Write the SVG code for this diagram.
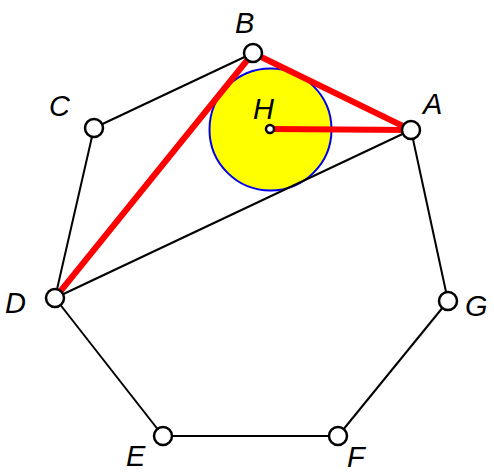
<svg xmlns="http://www.w3.org/2000/svg" width="494" height="473" viewBox="0 0 494 473">
<style>
.edge{stroke:#000;stroke-width:2;fill:none}
.red{stroke:#f00;stroke-width:6;fill:none;stroke-linecap:round}
.pt{fill:#fff;stroke:#000;stroke-width:2.5}
.lbl{font-family:"Liberation Sans",Arial,sans-serif;font-style:italic;font-size:29px;fill:#000}
</style>
<rect width="494" height="473" fill="#fff"/>
<g id="incircle"><circle cx="270.5" cy="129.5" r="61" fill="#ffff00" stroke="#0000ee" stroke-width="2"/></g>
<g id="connectors">
<line class="edge" x1="253" y1="53" x2="94" y2="128"/>
<line class="edge" x1="94" y1="128" x2="55" y2="298"/>
<line class="edge" x1="55" y1="298" x2="163" y2="436"/>
<line class="edge" x1="163" y1="436" x2="338" y2="436"/>
<line class="edge" x1="338" y1="436" x2="448" y2="301"/>
<line class="edge" x1="448" y1="301" x2="411" y2="130"/>
<line class="edge" x1="411" y1="130" x2="55" y2="298"/>
<line class="red" x1="253" y1="53" x2="55" y2="298"/>
<line class="red" x1="253" y1="53" x2="411" y2="130"/>
<line class="red" x1="270" y1="129" x2="411" y2="130"/>
</g>
<g id="A"><circle class="pt" cx="411" cy="130" r="9"/><text class="lbl" x="423" y="114">A</text></g>
<g id="B"><circle class="pt" cx="253" cy="53" r="9"/><text class="lbl" x="235" y="33">B</text></g>
<g id="C"><circle class="pt" cx="94" cy="128" r="9"/><text class="lbl" x="49" y="116">C</text></g>
<g id="D"><circle class="pt" cx="55" cy="298" r="9"/><text class="lbl" x="5" y="313">D</text></g>
<g id="E"><circle class="pt" cx="163" cy="436" r="9"/><text class="lbl" x="126" y="466">E</text></g>
<g id="F"><circle class="pt" cx="338" cy="436" r="9"/><text class="lbl" x="347" y="467">F</text></g>
<g id="G"><circle class="pt" cx="448" cy="301" r="9"/><text class="lbl" x="465" y="316">G</text></g>
<g id="H"><circle class="pt" cx="270" cy="129" r="4" stroke-width="2"/><text class="lbl" x="253" y="119">H</text></g>
</svg>
